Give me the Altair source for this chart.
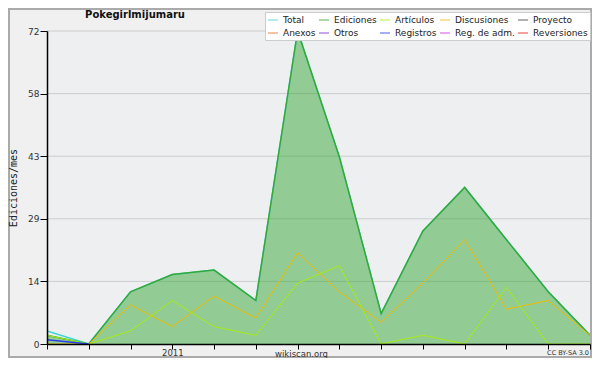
import json
import altair as alt
import pandas as pd

# ---- data ----
months = ["2010-10", "2010-11", "2010-12", "2011-01", "2011-02", "2011-03", "2011-04",
          "2011-05", "2011-06", "2011-07", "2011-08", "2011-09", "2011-10", "2011-11"]
x_tick_labels = ["", "", "", "2011", "", "", "", "", "", "", "", "", "", ""]

total       = [3, 0, 12, 16, 17, 10, 72, 43, 7, 26, 36, 24, 12, 2]
ediciones   = [2, 0, 12, 16, 17, 10, 72, 43, 7, 26, 36, 24, 12, 2]
articulos   = [2, 0, 3, 10, 4, 2, 14, 18, 0, 2, 0, 13, 0, 0]
discusiones = [0, 0, 9, 4, 11, 6, 21, 12, 5, 14, 24, 8, 10, 2]
registros   = [1, 0, None, None, None, None, None, None, None, None, None, None, None, None]

legend_names = ["Total", "Ediciones", "Artículos", "Discusiones", "Proyecto",
                "Anexos", "Otros", "Registros", "Reg. de adm.", "Reversiones"]
legend_colors = ["#3fd6d6", "#36a836", "#a8ec10", "#f2bb00", "#444444",
                 "#ee6a2a", "#7a2ae0", "#2a3cee", "#cc2ee0", "#e01c1c"]

y_major = [0, 14.4, 28.8, 43.2, 57.6, 72]
y_minor_step = 3.6

title_text = "Pokegirlmijumaru"
y_title = "Ediciones/mes"
x_title = "wikiscan.org"
license_text = "CC BY-SA 3.0"

# ---- build tables ----
series = {"Total": total, "Ediciones": ediciones, "Discusiones": discusiones,
          "Artículos": articulos, "Registros": registros}
rows = []
for name, vals in series.items():
    for i, (m, v) in enumerate(zip(months, vals)):
        rows.append({"mes": m, "i": i, "serie": name, "valor": v})
df = pd.DataFrame(rows)

y_ticks = [round(k * y_minor_step, 4) for k in range(int(round(y_major[-1] / y_minor_step)) + 1)]
major_test = "abs(datum.value/14.4 - round(datum.value/14.4)) < 0.01"

FONT = "DejaVu Sans"
MONO = "DejaVu Sans Mono"

W, H = 543, 313
PAD = {"left": 39, "top": 23, "right": 2, "bottom": 14}

xenc = alt.X("i:Q",
             scale=alt.Scale(domain=[0, len(months) - 1], nice=False, zero=False),
             axis=alt.Axis(values=list(range(len(months))),
                           labelExpr=json.dumps(x_tick_labels) + "[datum.value]",
                           labelOverlap=False, labelFont=FONT, labelFontSize=8.5,
                           labelColor="#333", labelPadding=-1, tickSize=5,
                           tickColor="#000", domainColor="#000", domainWidth=1.5,
                           grid=False, zindex=1,
                           title=x_title, titleFont=FONT, titleFontSize=8.5,
                           titleFontWeight="normal", titleColor="#333",
                           titleX=254, titleY=9, titleBaseline="middle"))
yenc = alt.Y("valor:Q",
             scale=alt.Scale(domain=[0, 72], nice=False),
             axis=alt.Axis(values=y_ticks,
                           labelExpr=major_test + " ? '' + round(datum.value) : ''",
                           labelOverlap=False, labelFont=FONT, labelFontSize=9,
                           labelColor="#333", labelPadding=1,
                           tickSize={"condition": {"test": major_test, "value": 7}, "value": 4},
                           tickColor="#000", domainColor="#000", domainWidth=1.5,
                           grid=False, zindex=1,
                           title=y_title, titleFont=MONO, titleFontSize=10,
                           titleFontWeight="normal", titleColor="#222",
                           titleX=-33.5, titleY=156.5, titleBaseline="middle"))

color = alt.Color("serie:N",
                  scale=alt.Scale(domain=legend_names, range=legend_colors),
                  legend=alt.Legend(title=None, orient="none", legendX=218, legendY=-19,
                                    columns=5, direction="horizontal",
                                    symbolType="stroke", symbolSize=100,
                                    symbolStrokeWidth=1.5, symbolOpacity=0.55,
                                    labelFont=FONT, labelFontSize=9, labelColor="#222",
                                    labelOffset=4, columnPadding=0, rowPadding=2,
                                    padding=2, fillColor="white", strokeColor="#cccccc"))

base = alt.Chart(df)

grid = alt.Chart(pd.DataFrame({"y": y_major[1:]})).mark_rule(color="#cccccc", strokeWidth=1).encode(
    y=alt.Y("y:Q", scale=alt.Scale(domain=[0, 72], nice=False)))

area = base.transform_filter(alt.datum.serie == "Ediciones").mark_area(
    color="#36a836", opacity=0.5).encode(x=xenc, y=yenc)

layers = [grid, area]
widths = {"Total": 1.5, "Ediciones": 1.5, "Discusiones": 1, "Artículos": 1, "Registros": 1.5}
for name in series:
    layers.append(base.transform_filter(alt.datum.serie == name).mark_line(
        strokeWidth=widths[name]).encode(x=xenc, y=yenc, color=color))

one = pd.DataFrame({"a": [0]})
shadow = alt.Chart(one).mark_rect(color="#888888").encode(
    x=alt.value(221), x2=alt.value(547), y=alt.value(-15), y2=alt.value(10))
title = alt.Chart(one).mark_text(font=FONT, fontSize=10, fontWeight="bold", color="#111",
                                 align="center", baseline="middle").encode(
    x=alt.value(88), y=alt.value(-16), text=alt.value(title_text))
lic = alt.Chart(one).mark_text(font=FONT, fontSize=6.5, color="#333",
                               align="right", baseline="middle").encode(
    x=alt.value(542), y=alt.value(H + 9), text=alt.value(license_text))
frame = alt.Chart(one).mark_rect(fill=None, stroke="#aaaaaa", strokeWidth=2).encode(
    x=alt.value(-38), x2=alt.value(W + 1), y=alt.value(-22), y2=alt.value(H + 13))

chart = alt.layer(*layers, shadow, title, lic, frame).properties(
    width=W, height=H,
    autosize=alt.AutoSizeParams(type="none"),
    padding=PAD,
    background="#F0F0F0",
).configure_view(fill="#EEEFF1", strokeWidth=0)

chart.save("out.html", embed_options={"renderer": "svg", "actions": False})
